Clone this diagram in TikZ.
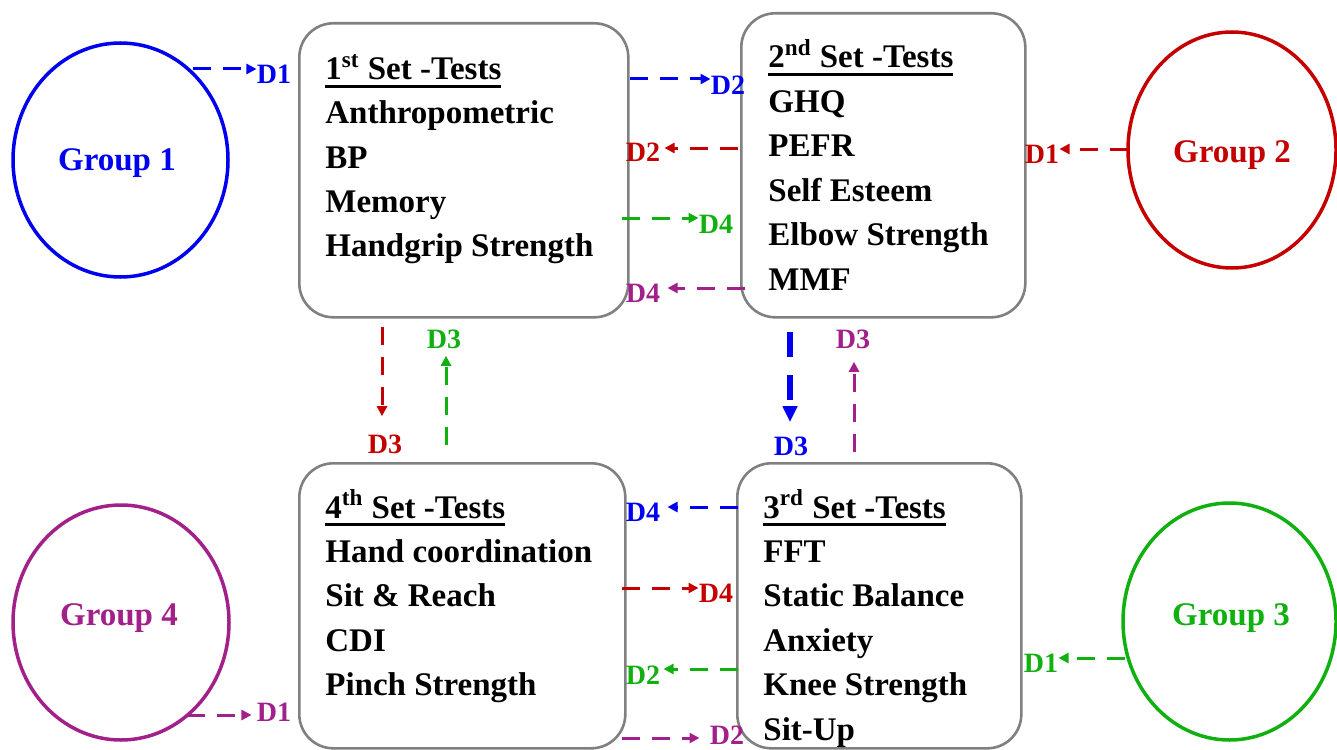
\documentclass[tikz,border=0pt]{standalone}
\usepackage{fontspec}
\setmainfont{Liberation Serif}
\usetikzlibrary{arrows.meta,shapes.geometric}
\definecolor{cblue}{RGB}{0,0,240}
\definecolor{cred}{RGB}{196,0,0}
\definecolor{cgreen}{RGB}{16,176,16}
\definecolor{cpurple}{RGB}{162,32,138}
\definecolor{cgray}{RGB}{128,128,128}
\newcommand\myul[1]{\setbox0\hbox{#1}\rlap{\rule[-4.2pt]{\wd0}{1.5pt}}\box0}
\begin{document}
\begin{tikzpicture}[x=0.5pt,y=-0.5pt,
  grp/.style={draw, ellipse, line width=1.75pt, inner sep=0pt},
  gtxt/.style={inner sep=0pt, font=\fontsize{16.5}{20}\selectfont\bfseries},
  box/.style={draw=cgray, line width=1.3pt, rounded corners=17pt, anchor=north west, inner sep=0pt},
  txt/.style={anchor=base west, inner sep=0pt, font=\fontsize{16.5}{20}\selectfont\bfseries},
  lab/.style={inner sep=0pt, font=\fontsize{14}{16}\selectfont\bfseries},
  darr/.style={line width=1.5pt, dash pattern=on 9pt off 6pt, -{Triangle[length=5pt,width=5pt]}},
  tarr/.style={line width=2.6pt, dash pattern=on 12.5pt off 9pt, -{Triangle[length=8pt,width=7pt]}},
]
\useasboundingbox (0,0) rectangle (1337,749);
\clip (0,0) rectangle (1337,749);

% groups
\node[grp, draw=cblue, minimum width=107.5pt, minimum height=117pt] (g1) at (120.5,160) {};
\node[grp, draw=cred, minimum width=104pt, minimum height=118pt] (g2) at (1232,150) {};
\node[grp, draw=cgreen, minimum width=106.5pt, minimum height=118.5pt] (g3) at (1229.5,621.5) {};
\node[grp, draw=cpurple, minimum width=108pt, minimum height=117.5pt] (g4) at (121,622.5) {};
\node[gtxt, text=cblue] (g1t) at (117,163) {Group 1};
\node[gtxt, text=cred] (g2t) at (1232,155) {Group 2};
\node[gtxt, text=cgreen] (g3t) at (1231,618) {Group 3};
\node[gtxt, text=cpurple] (g4t) at (119,618) {Group 4};

% boxes
\node[box, minimum width=164.5pt, minimum height=147pt] (b1) at (298,22) {};
\node[box, minimum width=142pt, minimum height=152pt] (b2) at (740,12) {};
\node[box, minimum width=142pt, minimum height=142.5pt] (b3) at (736,462) {};
\node[box, minimum width=163pt, minimum height=142.5pt] (b4) at (298,462) {};

% box texts
\node[txt] (t1) at (325,80) {\myul{1\textsuperscript{st} Set -Tests}};
\foreach \t [count=\i] in {Anthropometric, BP, Memory, Handgrip Strength}
  \node[txt] (t1-\i) at (325,80+44*\i) {\t};
\node[txt] (t2) at (768,68) {\myul{2\textsuperscript{nd} Set -Tests}};
\foreach \t [count=\i] in {GHQ, PEFR, Self Esteem, Elbow Strength, MMF}
  \node[txt] (t2-\i) at (768,68+44.4*\i) {\t};
\node[txt] (t3) at (763,518) {\myul{3\textsuperscript{rd} Set -Tests}};
\foreach \t [count=\i] in {FFT, Static Balance, Anxiety, Knee Strength, Sit-Up}
  \node[txt] (t3-\i) at (763,518+44.4*\i) {\t};
\node[txt] (t4) at (325,518) {\myul{4\textsuperscript{th} Set -Tests}};
\foreach \t [count=\i] in {Hand coordination, Sit \& Reach, CDI, Pinch Strength}
  \node[txt] (t4-\i) at (325,518+44.4*\i) {\t};

% labels
\node[lab, text=cblue] (lA) at (274,74) {D1};
\node[lab, text=cblue] (lB) at (728,85) {D2};
\node[lab, text=cred] (lC) at (643,152) {D2};
\node[lab, text=cgreen] (lD) at (716,224) {D4};
\node[lab, text=cpurple] (lE) at (643,293) {D4};
\node[lab, text=cred] (lF) at (1042,154) {D1};
\node[lab, text=cred] (lG) at (385,444) {D3};
\node[lab, text=cgreen] (lH) at (444,339) {D3};
\node[lab, text=cblue] (lI) at (791,446) {D3};
\node[lab, text=cpurple] (lJ) at (853,339) {D3};
\node[lab, text=cblue] (lK) at (643,512) {D4};
\node[lab, text=cred] (lL) at (716,593) {D4};
\node[lab, text=cgreen] (lM) at (643,675) {D2};
\node[lab, text=cpurple] (lN) at (727,735) {D2};
\node[lab, text=cpurple] (lO) at (274,712) {D1};
\node[lab, text=cgreen] (lP) at (1041,663) {D1};

% start points
\coordinate (sA) at (193,69);
\coordinate (sB) at (630,79);
\coordinate (sC) at (738,148);
\coordinate (sD) at (622,218);
\coordinate (sE) at (745,288);
\coordinate (sF) at (1128,149);
\coordinate (sG) at (382,327);
\coordinate (sH) at (446,445);
\coordinate (sI) at (790,332);
\coordinate (sJ) at (854,452);
\coordinate (sK) at (738,507);
\coordinate (sL) at (622,588);
\coordinate (sM) at (738,669);
\coordinate (sN) at (622,738);
\coordinate (sO) at (187,715);
\coordinate (sP) at (1125,658);

% connectors
\draw[darr, cblue] (sA) -- (lA.west |- sA);
\draw[darr, cblue] (sB) -- (lB.west |- sB);
\draw[darr, cred] (sC) -- ([xshift=2pt]lC.east |- sC);
\draw[darr, cgreen] (sD) -- (lD.west |- sD);
\draw[darr, cpurple] (sE) -- ([xshift=3.5pt]lE.east |- sE);
\draw[darr, cred] (sF) -- (lF.east |- sF);
\draw[darr, cred, shorten >=9pt] (sG) -- (lG.north -| sG);
\draw[darr, cgreen, shorten >=3.5pt] (sH) -- (lH.south -| sH);
\draw[tarr, cblue, shorten >=7pt] (sI) -- (lI.north -| sI);
\draw[darr, cpurple, shorten >=6.5pt] (sJ) -- (lJ.south -| sJ);
\draw[darr, cblue] (sK) -- ([xshift=3.5pt]lK.east |- sK);
\draw[darr, cred] (sL) -- (lL.west |- sL);
\draw[darr, cgreen] (sM) -- ([xshift=1.5pt]lM.east |- sM);
\draw[darr, cpurple] (sN) -- ([xshift=-5pt]lN.west |- sN);
\draw[darr, cpurple] (sO) -- ([xshift=-2.5pt]lO.west |- sO);
\draw[darr, cgreen] (sP) -- (lP.east |- sP);
\end{tikzpicture}
\end{document}
